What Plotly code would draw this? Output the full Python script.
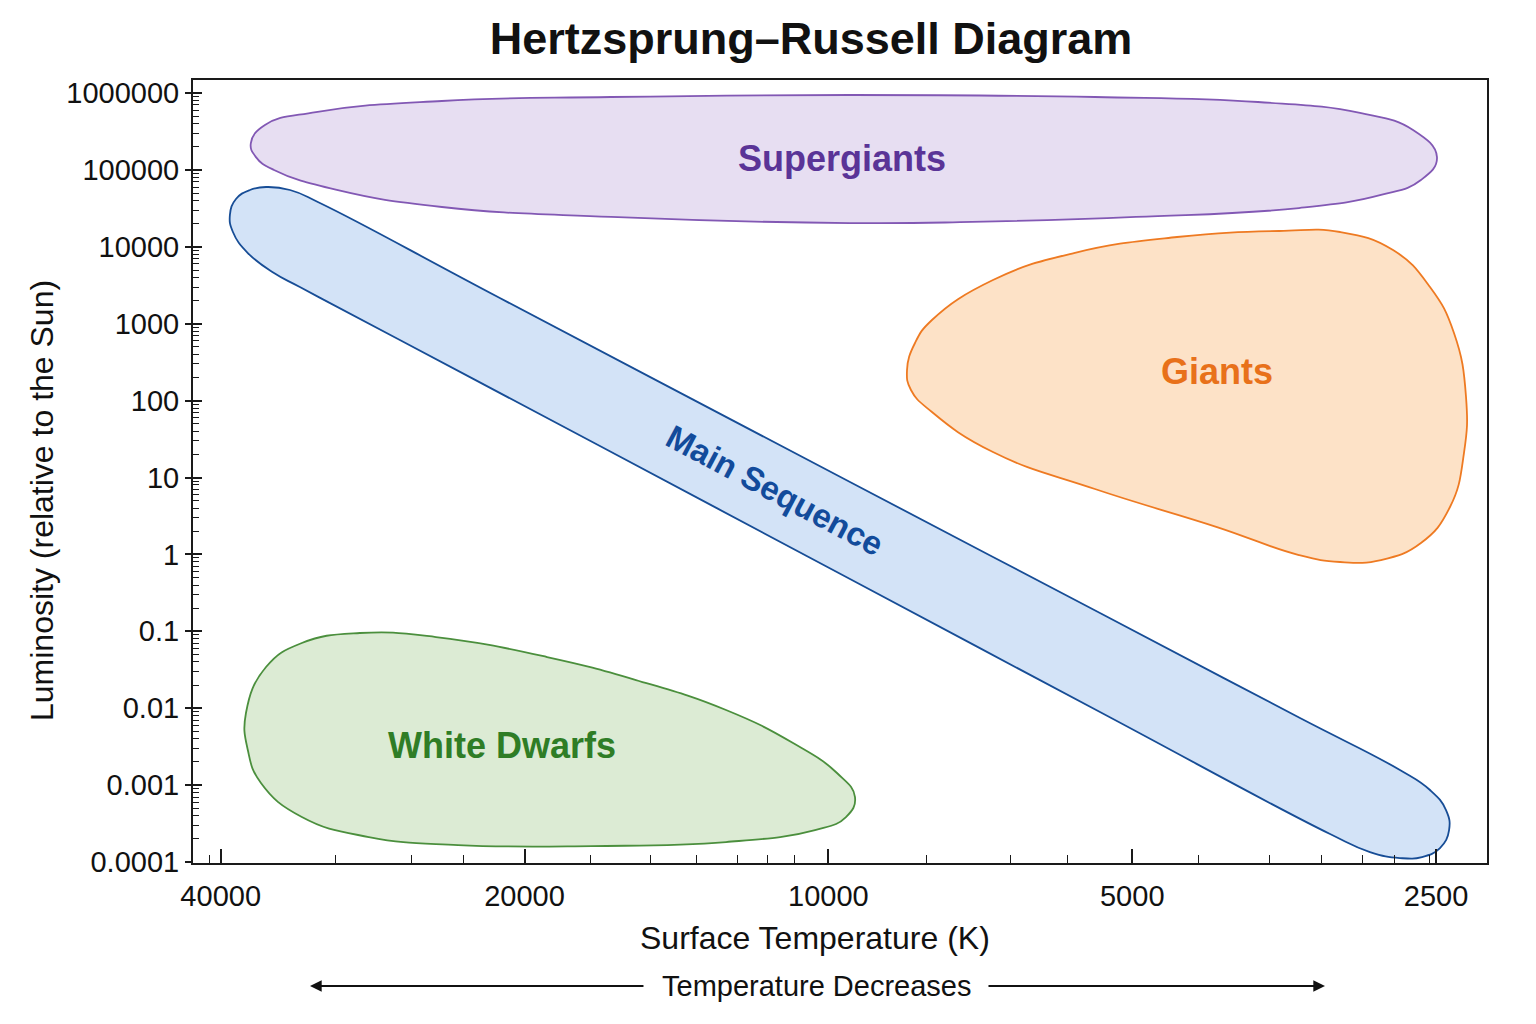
import math
import plotly.graph_objects as go

# ---------------- data (temperature in K, luminosity in L_sun) ----------------
supergiants_T = [9520, 5444, 3753, 2974, 2635, 2495, 2588, 2835, 3418, 4958, 7205, 9520,
                 16420, 24150, 30690, 35420, 36910, 37340, 36160, 32190, 24150, 16420, 9520]
supergiants_L = [9.44e5, 8.89e5, 7.65e5, 5.51e5, 3.31e5, 1.47e5, 7.40e4, 4.73e4, 3.20e4, 2.45e4, 2.11e4, 2.04e4,
                 2.45e4, 3.30e4, 5.49e4, 9.99e4, 1.47e5, 2.24e5, 3.84e5, 5.67e5, 7.89e5, 8.89e5, 9.44e5]

main_seq_T = [9519, 5382, 3410, 2715, 2535, 2444, 2427, 2478, 2582, 2715, 2907, 3184, 5382, 9519,
              16840, 26580, 33390, 35420, 37600, 38900, 39170, 38630, 37420, 36070, 34150, 31900, 21160, 9519]
main_seq_L = [8.745, 0.173, 0.007455, 0.001571, 0.000863, 0.000474, 0.0002604, 0.0001519, 0.000116, 0.0001126,
              0.0001348, 0.0002311, 0.008921, 0.4788, 25.7, 614.4, 3003, 4569, 8318, 15600, 25960, 41910,
              54880, 60030, 54880, 37180, 2161, 8.745]

giants_T = [4514, 3577, 3112, 2758, 2535, 2400, 2335, 2346, 2422, 2588, 2835, 3112, 3418, 4121,
            5444, 6870, 7896, 8283, 8358, 8207, 7896, 6870, 5711, 4514]
giants_L = [13430, 16080, 15600, 9100, 3003, 757.9, 111.5, 20.84, 4.136, 1.407, 0.846, 0.7966, 0.9824, 2.272,
            7.09, 21.47, 71.15, 137.5, 250.3, 561.7, 1119, 3706, 8318, 13430]

white_dwarfs_T = [29120, 24480, 19000, 15510, 12630, 10840, 9806, 9411, 9607, 10310, 12630, 17150, 23280,
                  28530, 33240, 36490, 37600, 37760, 36070, 33240, 29120]
white_dwarfs_L = [0.09504, 0.08432, 0.04633, 0.02326, 0.009474, 0.003527, 0.001436, 0.0006998, 0.0003845,
                  0.0002604, 0.0001818, 0.0001613, 0.0001662, 0.0002112, 0.0003845, 0.001064, 0.002858,
                  0.008659, 0.03433, 0.07045, 0.09504]

region_names = ["Supergiants", "Giants", "Main Sequence", "White Dwarfs"]
label_T = [9695, 4121, 11290, 21060]
label_L = [143000, 242.9, 6.88, 0.003322]

x_tick_vals = [40000, 20000, 10000, 5000, 2500]
x_tick_text = ["40000", "20000", "10000", "5000", "2500"]
x_minor_vals = [41000, 30800, 25900, 23000, 17200, 15000, 13500, 12300, 11500, 10800,
                8000, 6600, 5800, 4300, 3660, 3250, 2960, 2750, 2535]
y_tick_vals = [1e6, 1e5, 1e4, 1e3, 1e2, 1e1, 1, 0.1, 0.01, 0.001, 0.0001]
y_tick_text = ["1000000", "100000", "10000", "1000", "100", "10", "1", "0.1", "0.01", "0.001", "0.0001"]
y_minor_vals = [k * 10.0 ** n for n in range(-4, 6) for k in range(2, 10)]

# ---------------- styling ----------------
FONT = "Liberation Sans, Arial, Helvetica, sans-serif"
X_RANGE = [4.6295, 3.3475]
Y_RANGE = [-4.013, 6.17]

styles = {
    "Supergiants": dict(fill="#e7def2", line="#8258b4", text="#5a3497", size=36),
    "Giants": dict(fill="#fde2c7", line="#ee7a22", text="#e8711a", size=36),
    "Main Sequence": dict(fill="#d3e3f7", line="#174d96", text="#124b9b", size=33),
    "White Dwarfs": dict(fill="#dcebd4", line="#4b8f3d", text="#2f7d26", size=36),
}

fig = go.Figure()

regions = [
    ("Supergiants", supergiants_T, supergiants_L),
    ("Main Sequence", main_seq_T, main_seq_L),
    ("Giants", giants_T, giants_L),
    ("White Dwarfs", white_dwarfs_T, white_dwarfs_L),
]
for name, T, L in regions:
    s = styles[name]
    fig.add_trace(go.Scatter(
        x=T, y=L, mode="lines", fill="toself", fillcolor=s["fill"],
        line=dict(color=s["line"], width=1.8, shape="spline", smoothing=1.3),
        name=name, showlegend=False, hoverinfo="name",
    ))

# dummy trace for the overlay axis (inner part of the major y ticks)
fig.add_trace(go.Scatter(x=[None], y=[None], yaxis="y2", showlegend=False, hoverinfo="skip"))

annotations = []
for name, T, L in zip(region_names, label_T, label_L):
    s = styles[name]
    annotations.append(dict(
        x=math.log10(T), y=math.log10(L), xref="x", yref="y", text=name, showarrow=False,
        font=dict(family=FONT, size=s["size"], color=s["text"], weight="bold"),
        textangle=28 if name == "Main Sequence" else 0,
        xanchor="center", yanchor="middle",
    ))

# axis titles and direction note
annotations.append(dict(x=0.4807, y=-0.0958, xref="paper", yref="paper", text="Surface Temperature (K)",
                        showarrow=False, xanchor="center", yanchor="middle",
                        font=dict(family=FONT, size=32, color="#111111")))
annotations.append(dict(x=-0.1167, y=0.4636, xref="paper", yref="paper", text="Luminosity (relative to the Sun)",
                        showarrow=False, xanchor="center", yanchor="middle", textangle=-90,
                        font=dict(family=FONT, size=32, color="#111111")))
annotations.append(dict(x=0.4822, y=-0.1571, xref="paper", yref="paper", text="Temperature Decreases",
                        showarrow=False, xanchor="center", yanchor="middle",
                        font=dict(family=FONT, size=29, color="#111111")))
for head_x, ax in [(0.0904, 335), (0.8748, -338)]:
    annotations.append(dict(x=head_x, y=-0.1571, xref="paper", yref="paper", text="",
                            showarrow=True, ax=ax, ay=0, arrowhead=2, arrowsize=1.3,
                            arrowwidth=1.8, arrowcolor="#111111", standoff=0, startstandoff=0))

fig.update_layout(
    width=1536, height=1024,
    margin=dict(l=193, r=49, t=80, b=161),
    paper_bgcolor="white", plot_bgcolor="white",
    font=dict(family=FONT, color="#111111"),
    title=dict(text="Hertzsprung–Russell Diagram", x=0.4776, xref="paper", xanchor="center",
               y=1 - 38 / 1024, yref="container", yanchor="middle",
               font=dict(family=FONT, size=45, color="#111111", weight="bold")),
    xaxis=dict(type="log", range=X_RANGE, autorange=False, showgrid=False, zeroline=False,
               showline=True, linecolor="#1a1a1a", linewidth=2, mirror=True,
               tickmode="array", tickvals=x_tick_vals, ticktext=x_tick_text,
               ticks="inside", ticklen=14, tickwidth=1.5, tickcolor="#1a1a1a",
               ticklabelstandoff=6,
               tickfont=dict(family=FONT, size=29, color="#111111"),
               minor=dict(tickmode="array", tickvals=x_minor_vals, ticks="inside", ticklen=8,
                          tickwidth=1.2, tickcolor="#1a1a1a", showgrid=False)),
    yaxis=dict(type="log", range=Y_RANGE, autorange=False, showgrid=False, zeroline=False,
               showline=True, linecolor="#1a1a1a", linewidth=2, mirror=True,
               tickmode="array", tickvals=y_tick_vals, ticktext=y_tick_text,
               ticks="outside", ticklen=6, tickwidth=1.5, tickcolor="#1a1a1a",
               tickfont=dict(family=FONT, size=29, color="#111111"),
               minor=dict(tickmode="array", tickvals=y_minor_vals, ticks="inside", ticklen=6,
                          tickwidth=1.2, tickcolor="#1a1a1a", showgrid=False)),
    yaxis2=dict(type="log", range=Y_RANGE, autorange=False, overlaying="y", side="left", anchor="x",
                showgrid=False, zeroline=False, showline=False,
                tickmode="array", tickvals=y_tick_vals, showticklabels=False,
                ticks="inside", ticklen=9, tickwidth=1.5, tickcolor="#1a1a1a"),
    annotations=annotations,
)

fig.write_html("out.html")
